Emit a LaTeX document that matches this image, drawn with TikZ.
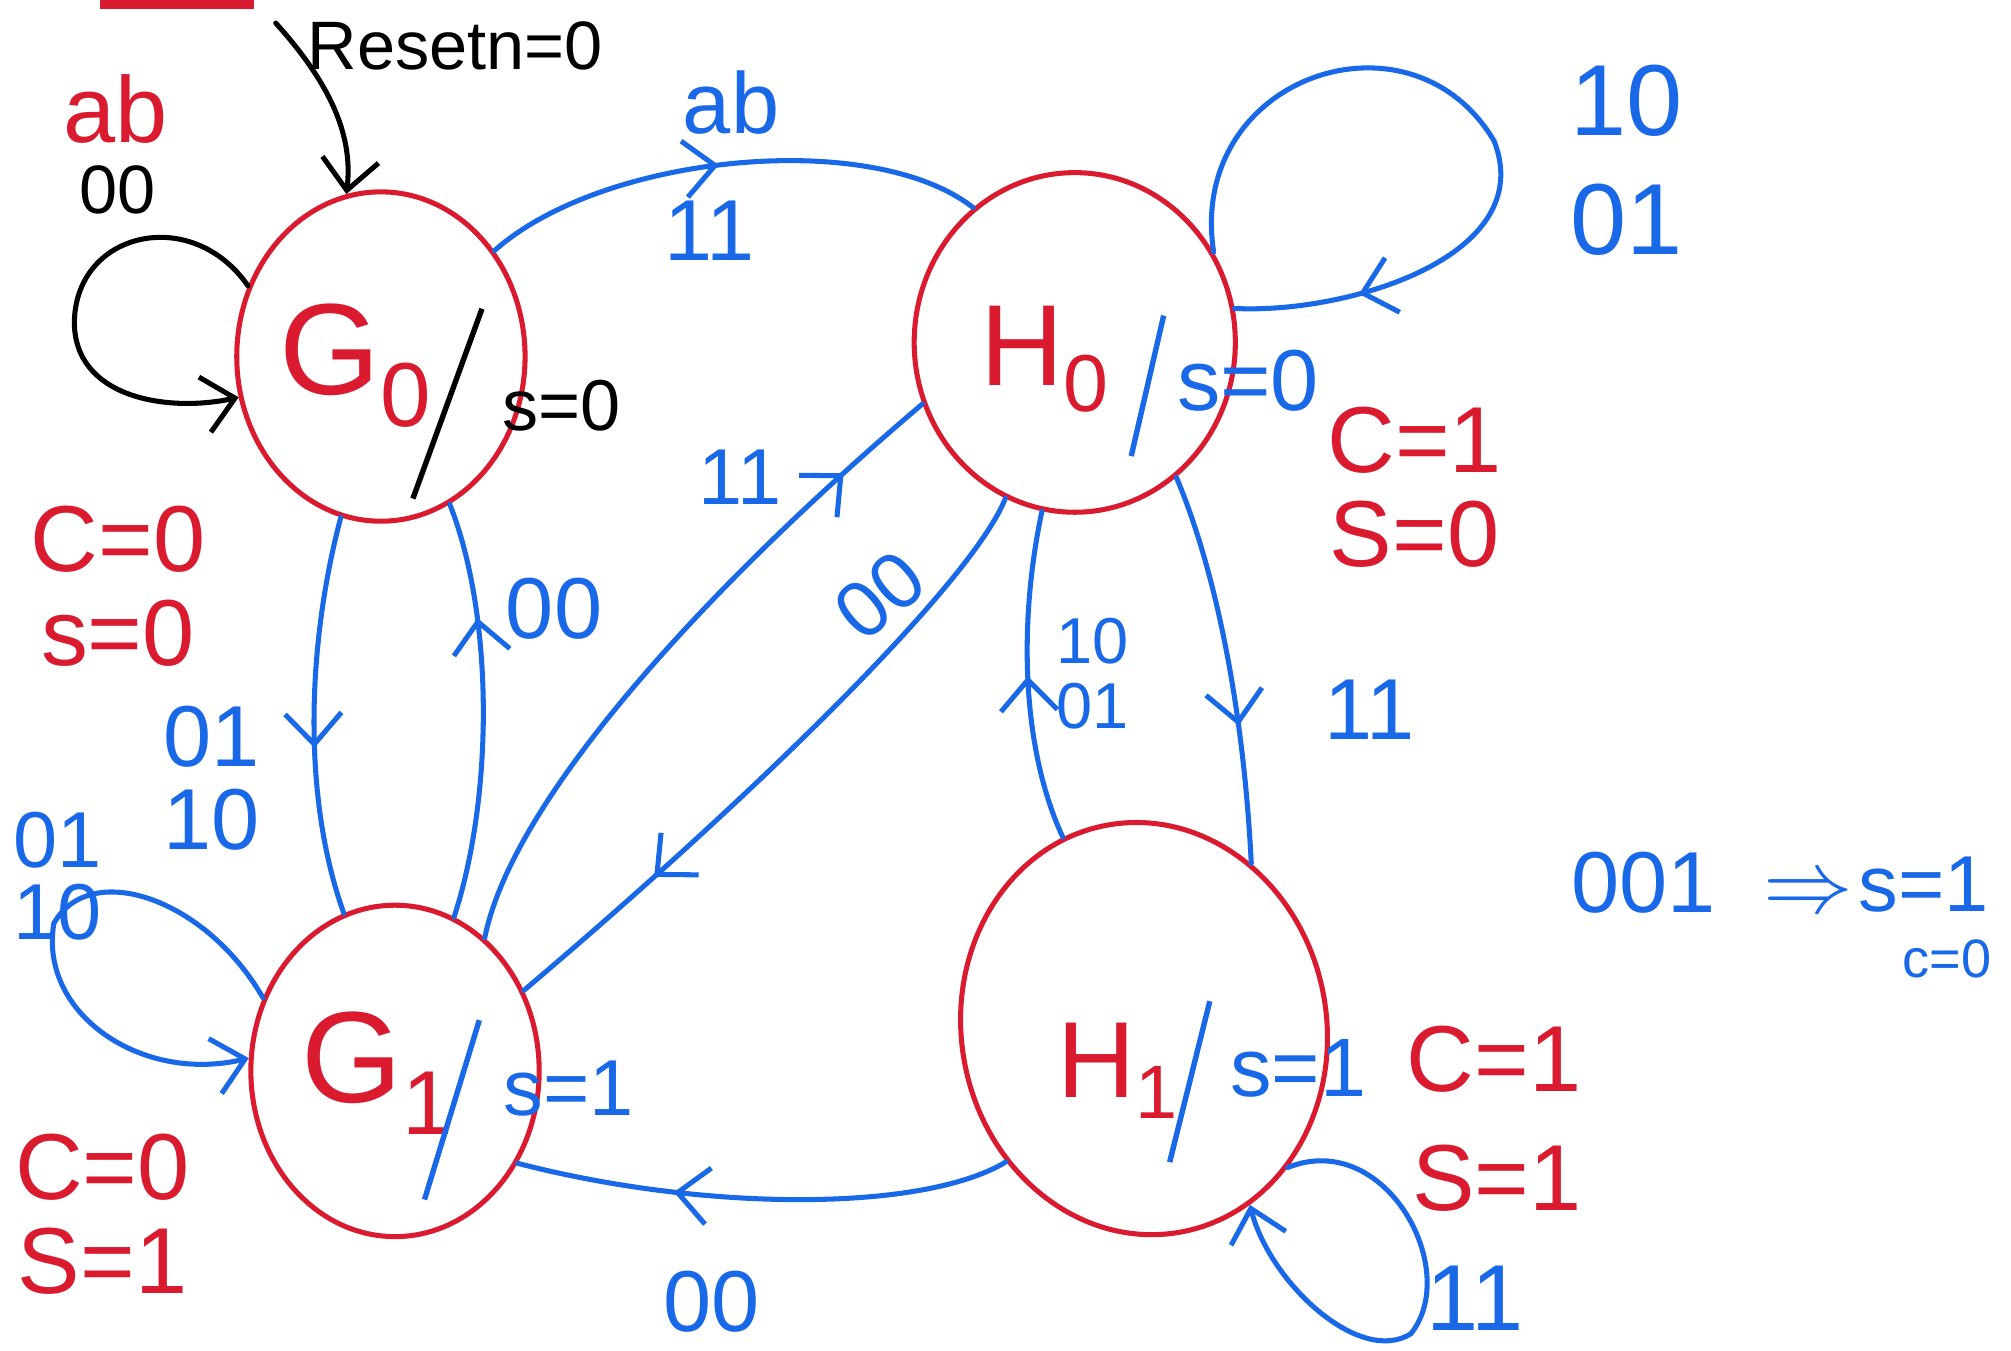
\documentclass[tikz,border=0pt]{standalone}
\usepackage{fontspec}
\setmainfont{Liberation Sans}
\usepackage{tikz}
\usetikzlibrary{arrows.meta,positioning,shapes.geometric,decorations.markings}
\definecolor{penred}{RGB}{218,26,46}
\definecolor{penblue}{RGB}{24,104,232}
\newcommand{\fs}[1]{\fontsize{#1}{#1}\selectfont}
% hand drawn slash: drop, tilt, length
\newcommand{\hslash}[3]{\raisebox{-#1}{\rotatebox{-#2}{\rule{1.5pt}{#3}}}}

\begin{document}
\begin{tikzpicture}[x=0.125mm,y=-0.125mm,line width=1.4pt,line cap=round,
  >={Straight Barb[length=3mm,width=5.5mm]},
  state/.style={draw=penred,ellipse,inner sep=0pt},
  bl/.style={color=penblue},
  midarr/.style={postaction={decorate},decoration={markings,mark=at position #1 with {\arrow{>}}}},
  nm/.style={text=penred,font=\fs{36},inner sep=0pt},
  outp/.style={font=\fs{24},inner sep=0pt,anchor=base west},
  cs/.style={text=penred,align=center,font=\fontsize{26}{26}\selectfont,inner sep=0pt},
  lab/.style={text=penblue,align=center,font=\fontsize{24}{23}\selectfont,inner sep=0pt}]
\useasboundingbox (0,0) rectangle (1568,1053);
\fill[penred] (78,0) rectangle (198,7);

% states
\node[state,minimum width=28.1mm,minimum height=32.1mm] (g0) at (297,278) {};
\node[state,minimum width=31.3mm,minimum height=33.1mm] (h0) at (838,267) {};
\node[state,minimum width=28.1mm,minimum height=32.3mm] (g1) at (308,835) {};
\node[state,minimum width=35.6mm,minimum height=40.3mm,rotate=10] (h1) at (892,802) {};

\node[nm] (g0n) at (278,285) {G\textsubscript{0}};
\node[nm,font=\fs{32}] (h0n) at (815,280) {H\textsubscript{0}};
\node[nm] (g1n) at (295,837) {G\textsubscript{1}};
\node[nm,font=\fs{30}] (h1n) at (872,835) {H\textsubscript{1}};

\node[outp,font=\fs{20}] (g0o) at (318,336) {\hslash{18.5pt}{20}{56pt}\hspace{5pt}s=0};
\node[outp,text=penblue] (h0o) at (878,320) {\hslash{12.5pt}{13}{40pt}\hspace{3pt}s=0};
\node[outp,text=penblue,font=\fs{22}] (g1o) at (327,870) {\hslash{23pt}{17}{52pt}\hspace{6pt}s=1};
\node[outp,text=penblue,font=\fs{23}] (h1o) at (908,855) {\hslash{18pt}{14}{46pt}\hspace{5pt}s=1};

\node[cs] (g0c) at (92,457) {C=0\\s=0};
\node[cs] (h0c) at (1103,380) {C=1\\S=0};
\node[cs] (g1c) at (80,947) {C=0\\S=1};
\node[cs,align=right,font=\fontsize{26}{33}\selectfont] (h1c) at (1165,872) {C=1\\S=1};

% reset and inputs
\coordinate (rst) at (215,18);
\node[font=\fs{19}] (rstl) at (355,36) {Resetn=0};
\node[text=penred,font=\fs{26}] (inab) at (90,85) {ab};
\node[font=\fs{19}] (in00) at (92,148) {00};

% transitions
\draw[->] (rst) .. controls (262,70) and (275,110) .. (g0.102);
\draw[->] (g0.152) .. controls (150,160) and (60,180) .. (58,250) .. controls (57,310) and (130,322) .. (g0.196);
\draw[bl,midarr=0.48] (g0.43) .. controls (470,120) and (680,100) .. (h0.127);
\draw[bl,midarr=0.84] (h0.33) .. controls (925,60) and (1100,0) .. (1165,110) .. controls (1200,200) and (1050,245) .. (h0.12);
\draw[bl,midarr=0.58] (g0.256) .. controls (240,500) and (235,620) .. (g1.108);
\draw[bl,midarr=0.72] (g1.69) .. controls (385,620) and (385,480) .. (g0.295);
\draw[bl,midarr=0.85] (g1.56) .. controls (400,620) and (560,450) .. (h0.202);
\draw[bl,midarr=0.75] (h0.246) .. controls (760,450) and (600,610) .. (g1.32);
\draw[bl,midarr=0.5] (h1.103) .. controls (795,580) and (795,480) .. (h0.259);
\draw[bl,midarr=0.65] (h0.307) .. controls (950,450) and (970,560) .. (h1.47);
\draw[bl,midarr=0.68] (h1.214) .. controls (720,945) and (550,945) .. (g1.323);
\draw[bl,->] (h1.306) .. controls (1080,880) and (1140,990) .. (1100,1040) .. controls (1060,1065) and (990,1000) .. (h1.291);
\draw[bl,->] (g1.151) .. controls (160,700) and (70,670) .. (42,720) .. controls (30,790) and (110,845) .. (g1.175);

% edge labels
\node[lab] (lab1) at (570,80) {ab};
\node[lab] (l11a) at (553,180) {11};
\node[lab,font=\fontsize{28}{33}\selectfont] (lh0) at (1268,125) {10\\01};
\node[lab,font=\fs{22}] (l11b) at (577,372) {11};
\node[lab,rotate=40,font=\fs{22}] (l00a) at (686,464) {00};
\node[lab] (l00b) at (432,475) {00};
\node[lab] (l0110) at (165,607) {01\\10};
\node[lab,font=\fontsize{22}{20}\selectfont] (lg1) at (45,683) {01\\10};
\node[lab,font=\fontsize{18}{18}\selectfont] (l1001) at (852,525) {10\\01};
\node[lab] (l11c) at (1068,553) {11};
\node[lab] (l00c) at (555,1015) {00};
\node[lab,font=\fs{26}] (lh1) at (1150,1012) {11};

% note
\node[lab] (note) at (1335,688) {001 \ $\Rightarrow$};
\node[lab,font=\fs{22}] (nts) at (1500,690) {s=1};
\node[lab,font=\fs{15}] (ntc) at (1518,748) {c=0};
\end{tikzpicture}
\end{document}
